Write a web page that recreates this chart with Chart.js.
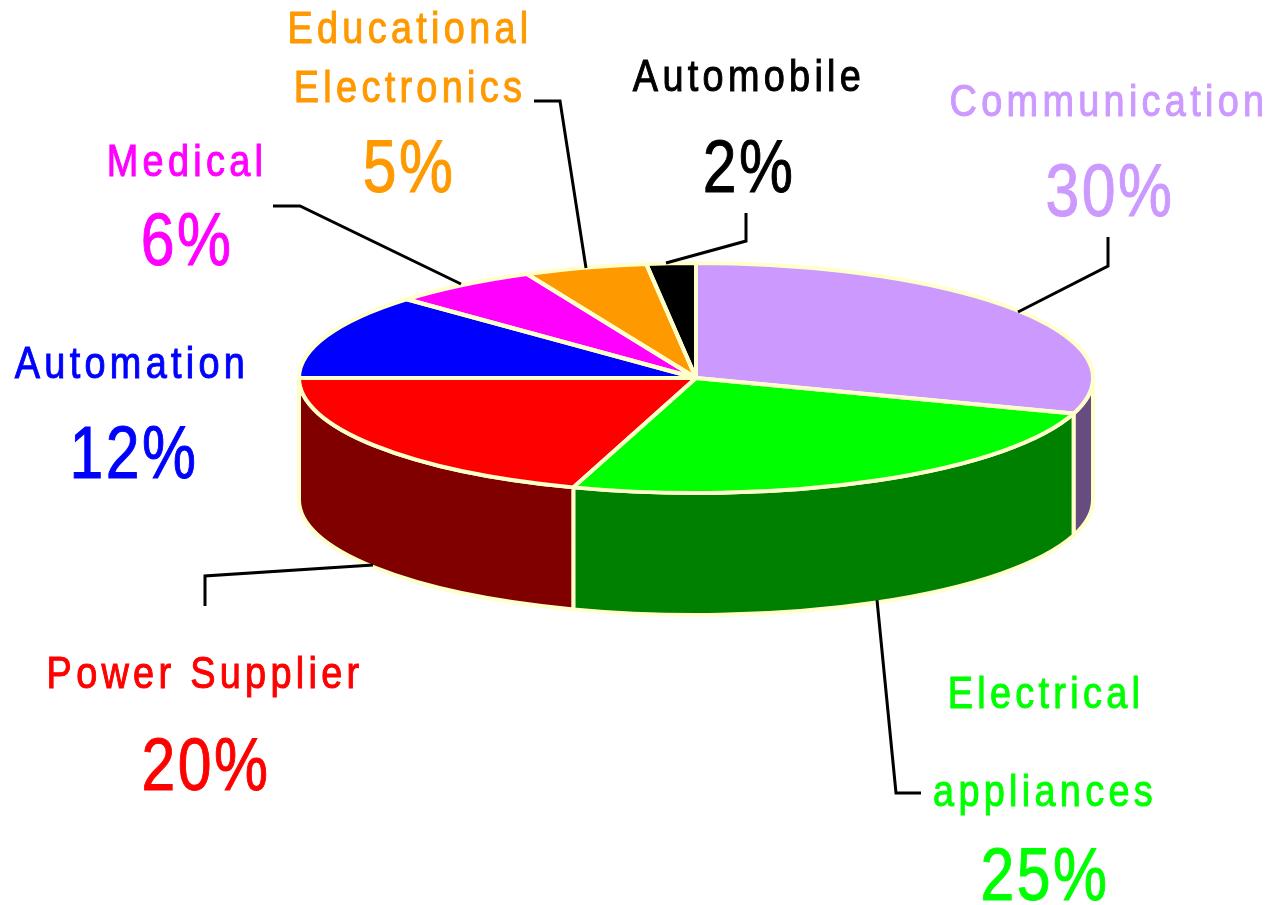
<!DOCTYPE html>
<html>
<head>
<meta charset="utf-8">
<title>Application share</title>
<script src="https://cdn.jsdelivr.net/npm/chart.js@4"></script>
<style>
  html, body { margin: 0; padding: 0; background: #fff; overflow: hidden; }
  canvas { display: block; }
</style>
</head>
<body>
<canvas id="pieChart" width="1274" height="905"></canvas>
<script>
const categories = ['Communication', 'Electrical appliances', 'Power Supplier', 'Automation', 'Medical', 'Educational Electronics', 'Automobile'];
const shares = [30, 25, 20, 12, 6, 5, 2];
const topColors = ['#cc99ff', '#00ff00', '#ff0000', '#0000ff', '#ff00ff', '#ff9900', '#000000'];
const sideColors = ['#664c80', '#008000', '#800000', '#000080', '#800080', '#804c00', '#000000'];

// label placement, same order as categories: [line, centre x, baseline y]
const nameLines = [
    [['Communication', 1109, 116]],
    [['Electrical', 1046, 708], ['appliances', 1045, 806]],
    [['Power Supplier', 205, 688]],
    [['Automation', 132, 378]],
    [['Medical', 187, 176]],
    [['Educational', 410, 43], ['Electronics', 410, 102]],
    [['Automobile', 749, 91]]
];
const percentSpots = [[1110, 216], [1045, 900], [206, 790], [134, 478], [187, 265], [409, 192], [749, 192]];
const leaders = [
    [[1108, 237], [1108, 266], [1018, 312]],
    [[921, 793], [896, 793], [877, 600]],
    [[205, 606], [205, 576], [373, 565]],
    [],
    [[273, 206], [300, 206], [461, 284]],
    [[534, 101], [560, 101], [586, 268]],
    [[746, 213], [746, 241], [666, 263]]
];

const edgeColor = '#ffffcc';
const centerY = 378;
const squash = 115 / 397;
const depth = 122;

// Текст уже обычного: шрифт без узкого начертания, поэтому сжимаем по ширине
function narrowText(ctx, text, x, y, font, spacing, widthScale) {
    ctx.save();
    ctx.translate(x, y);
    ctx.scale(widthScale, 1);
    ctx.font = font;
    ctx.letterSpacing = spacing;
    ctx.lineWidth = 1;
    ctx.strokeStyle = ctx.fillStyle;
    ctx.fillText(text, 0, 0);
    ctx.strokeText(text, 0, 0);
    ctx.restore();
}

// Кладём круг на бок: сжимаем по вертикали и дорисовываем стенку
const tiltPlugin = {
    id: 'tilt',
    beforeDatasetsDraw(chart) {
        const ctx = chart.ctx;
        const arcs = chart.getDatasetMeta(0).data;
        arcs.forEach((arc, i) => {
            const from = Math.max(arc.startAngle, 0);
            const to = Math.min(arc.endAngle, Math.PI);
            if (from >= to) return;
            const rx = arc.outerRadius;
            const ry = rx * squash;
            ctx.beginPath();
            ctx.ellipse(arc.x, centerY, rx, ry, 0, from, to);
            ctx.ellipse(arc.x, centerY + depth, rx, ry, 0, to, from, true);
            ctx.closePath();
            ctx.fillStyle = sideColors[i];
            ctx.fill();
            ctx.strokeStyle = edgeColor;
            ctx.lineWidth = 4;
            ctx.lineJoin = 'round';
            ctx.stroke();
        });
        ctx.save();
        ctx.translate(0, centerY);
        ctx.scale(1, squash);
        ctx.translate(0, -arcs[0].y);
    },
    afterDatasetsDraw(chart) {
        const ctx = chart.ctx;
        ctx.restore();
        const arcs = chart.getDatasetMeta(0).data;

        // светлая обводка секторов
        arcs.forEach(arc => {
            const rx = arc.outerRadius;
            ctx.beginPath();
            ctx.moveTo(arc.x, centerY);
            ctx.ellipse(arc.x, centerY, rx, rx * squash, 0, arc.startAngle, arc.endAngle);
            ctx.closePath();
            ctx.strokeStyle = edgeColor;
            ctx.lineWidth = 4;
            ctx.lineJoin = 'round';
            ctx.stroke();
        });

        // выноски
        ctx.strokeStyle = '#000000';
        ctx.lineWidth = 3;
        ctx.lineJoin = 'miter';
        leaders.forEach(points => {
            if (!points.length) return;
            ctx.beginPath();
            points.forEach((p, k) => k ? ctx.lineTo(p[0], p[1]) : ctx.moveTo(p[0], p[1]));
            ctx.stroke();
        });

        // подписи
        ctx.textAlign = 'center';
        ctx.textBaseline = 'alphabetic';
        categories.forEach((name, i) => {
            ctx.fillStyle = topColors[i];
            nameLines[i].forEach(line => narrowText(ctx, line[0], line[1], line[2], '44px "Liberation Sans"', '5px', 0.86));
            narrowText(ctx, shares[i] + '%', percentSpots[i][0], percentSpots[i][1], '74px "Liberation Sans"', '3px', 0.82);
        });
    }
};

new Chart(document.getElementById('pieChart'), {
    type: 'pie',
    data: {
        labels: categories,
        datasets: [{
            data: shares,
            backgroundColor: topColors,
            borderWidth: 0,
            clip: false
        }]
    },
    options: {
        responsive: false,
        animation: false,
        layout: { padding: { left: 299, right: 181, top: 0, bottom: 111 } },
        plugins: {
            legend: { display: false },
            tooltip: { enabled: false }
        }
    },
    plugins: [tiltPlugin]
});
</script>
</body>
</html>
